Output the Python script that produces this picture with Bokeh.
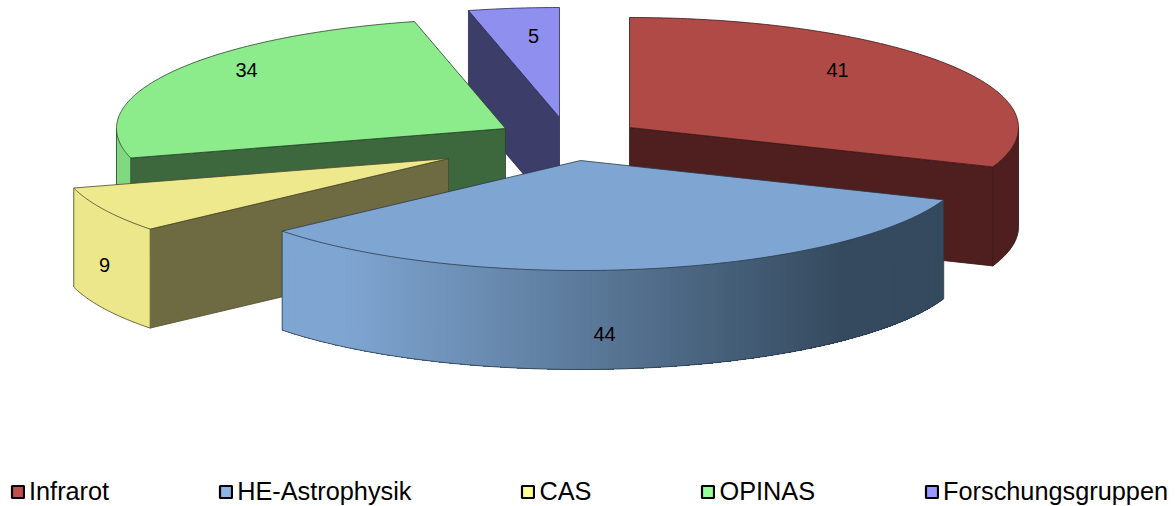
import math
from bokeh.plotting import figure
from bokeh.models import Range1d, Legend, LegendItem
from bokeh.core.properties import value
from bokeh.embed import file_html
from bokeh.resources import INLINE

categories = ["Infrarot", "HE-Astrophysik", "CAS", "OPINAS", "Forschungsgruppen"]
values = [41, 44, 9, 34, 5]

top_colors = ["#B04A47", "#7FA6D2", "#EDE98C", "#8CEC8C", "#8F8FF0"]
wall_colors = ["#4E1F1E", "#344A5E", "#6E6B42", "#3D673D", "#3D3D6A"]
rim_left = ["#4E1F1E", "#7FA6D2", "#EBE78A", "#80D880", "#3D3D6A"]
rim_right = ["#4E1F1E", "#354A5E", "#EBE78A", "#80D880", "#3D3D6A"]
edge_colors = ["#3A1615", "#2A3A4A", "#4A4828", "#24422A", "#2A2A50"]
legend_colors = ["#C0504D", "#8DB4E2", "#FFFF99", "#99FF99", "#9999FF"]

# layout of the exploded pie (image pixels)
apexes = [(629, 127), (580, 160), (448, 158), (505, 128), (559, 117)]
label_pos = [(837, 69), (604, 333), (104, 264), (246, 69), (533, 35)]
RX, RY, DEPTH = 389, 110, 99
draw_order = [4, 3, 0, 2, 1]

W, H = 1175, 506
p = figure(width=W, height=H, output_backend="svg", toolbar_location=None,
           x_range=Range1d(0, W), y_range=Range1d(H, 0),
           min_border=0, outline_line_color=None, background_fill_color="white")
p.axis.visible = False
p.grid.visible = False


def pt(c, ang, dz=0):
    r = math.radians(ang)
    return c[0] + RX * math.sin(r), c[1] - RY * math.cos(r) + dz


def mix(a, b, t):
    ca = [int(a[i:i + 2], 16) for i in (1, 3, 5)]
    cb = [int(b[i:i + 2], 16) for i in (1, 3, 5)]
    return "#%02x%02x%02x" % tuple(round(x + (y - x) * t) for x, y in zip(ca, cb))


def arc(c, a0, a1, dz=0):
    n = max(2, int(abs(a1 - a0) * 2))
    return [pt(c, a0 + (a1 - a0) * i / n, dz) for i in range(n + 1)]


def poly(points, fill, line, width=0.8):
    p.patch([q[0] for q in points], [q[1] for q in points], fill_color=fill,
            line_color=line, line_width=width)


total = sum(values)
angles = [0]
for v in values:
    angles.append(angles[-1] + v * 360 / total)

for i in draw_order:
    a0, a1 = angles[i], angles[i + 1]
    c = apexes[i]
    # radial walls that face the viewer
    if math.sin(math.radians(a0)) < -1e-9:
        e = pt(c, a0)
        poly([c, e, (e[0], e[1] + DEPTH), (c[0], c[1] + DEPTH)], wall_colors[i], edge_colors[i])
    if math.sin(math.radians(a1)) > 1e-9:
        e = pt(c, a1)
        poly([c, e, (e[0], e[1] + DEPTH), (c[0], c[1] + DEPTH)], wall_colors[i], edge_colors[i])
    # outer rim: only the part between 90 and 270 degrees is seen
    s0, s1 = max(a0, 90), min(a1, 270)
    if s1 > s0:
        if rim_left[i] == rim_right[i]:
            poly(arc(c, s0, s1) + arc(c, s1, s0, DEPTH), rim_left[i], rim_left[i], 0.5)
        else:
            xmin, xmax = pt(c, s1)[0], pt(c, s0)[0]
            span = xmax - xmin
            # overlapping bands, each covering the seam of the one before
            n = int(s1 - s0) * 2
            for k in range(n):
                t0 = s0 + (s1 - s0) * k / n
                x = pt(c, t0 + (s1 - s0) / (2 * n))[0]
                t = min(1, max(0, ((x - xmin) / span - 0.09) / 0.76))
                col = mix(rim_left[i], rim_right[i], t)
                poly(arc(c, t0, s1) + arc(c, s1, t0, DEPTH), col, None, 0)
        rim = arc(c, s0, s1, DEPTH)
        p.line([q[0] for q in rim], [q[1] for q in rim], line_color=edge_colors[i], line_width=0.8)
        for s in (s0, s1):
            e = pt(c, s)
            p.line([e[0], e[0]], [e[1], e[1] + DEPTH], line_color=edge_colors[i], line_width=0.8)
    # top face
    poly([c] + arc(c, a0, a1), top_colors[i], edge_colors[i])

for v, (x, y) in zip(values, label_pos):
    p.text([x], [y], text=[str(v)], text_font=value("Liberation Sans"), text_font_size="20px",
           text_color="#000000", text_align="center", text_baseline="middle")

items = []
for name, col in zip(categories, legend_colors):
    r = p.quad(left=[-100], right=[-90], top=[-100], bottom=[-90], fill_color=col,
               line_color="#000000", line_width=2.2)
    items.append(LegendItem(label=name, renderers=[r]))
legend = Legend(items=items, orientation="horizontal", location=(10, 0), spacing=109, margin=0,
                padding=0, glyph_width=15, glyph_height=15, label_standoff=4,
                label_text_font="Liberation Sans", label_text_font_size="25.3px",
                label_text_color="#000000", border_line_color=None,
                background_fill_color=None, background_fill_alpha=0, label_height=20)
p.add_layout(legend, "center")

open("out.html", "w").write(file_html(p, INLINE))
